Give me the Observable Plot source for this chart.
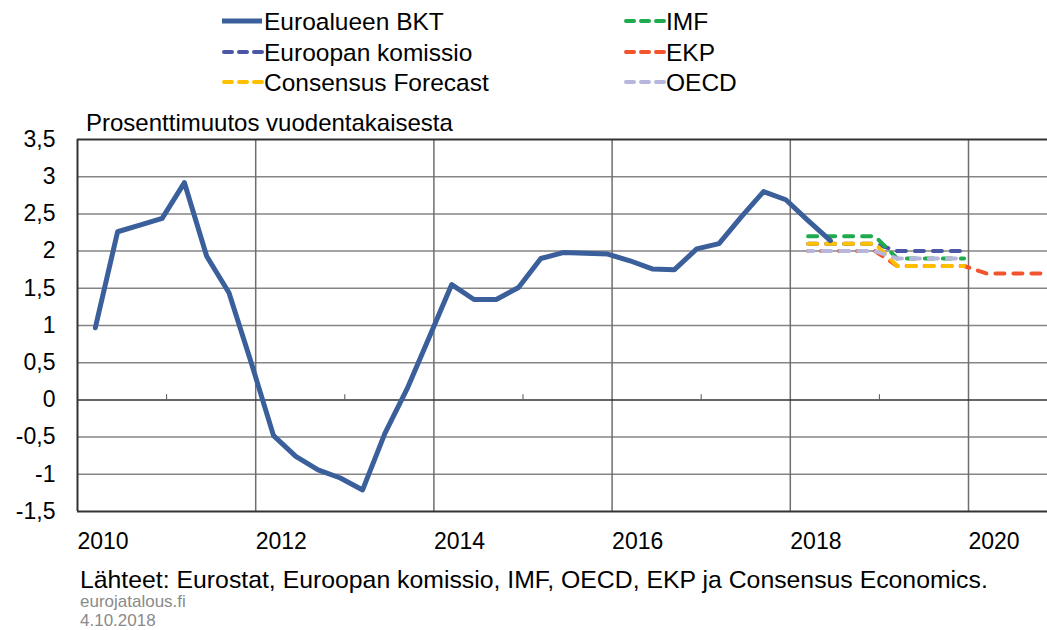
<!DOCTYPE html>
<html>
<head>
<meta charset="utf-8">
<script src="https://cdn.jsdelivr.net/npm/d3@7"></script>
<script src="https://cdn.jsdelivr.net/npm/@observablehq/plot@0.6"></script>
<style>
  html, body { margin: 0; padding: 0; background: #fff; }
  #wrap { position: relative; width: 1047px; height: 630px; overflow: hidden; font-family: "Liberation Sans", Arial, sans-serif; }
  #wrap > svg { position: absolute; left: 0; top: 0; }
</style>
</head>
<body>
<div id="wrap"></div>
<script>
// ---------- data ----------
const quarters = [
  "2010Q1","2010Q2","2010Q3","2010Q4",
  "2011Q1","2011Q2","2011Q3","2011Q4",
  "2012Q1","2012Q2","2012Q3","2012Q4",
  "2013Q1","2013Q2","2013Q3","2013Q4",
  "2014Q1","2014Q2","2014Q3","2014Q4",
  "2015Q1","2015Q2","2015Q3","2015Q4",
  "2016Q1","2016Q2","2016Q3","2016Q4",
  "2017Q1","2017Q2","2017Q3","2017Q4",
  "2018Q1","2018Q2"
];
const gdp = [
  0.97, 2.26, 2.35, 2.44,
  2.92, 1.93, 1.44, 0.50,
  -0.48, -0.76, -0.94, -1.05,
  -1.21, -0.45, 0.15, 0.85,
  1.55, 1.35, 1.35, 1.51,
  1.90, 1.98, 1.97, 1.96,
  1.87, 1.76, 1.75, 2.03,
  2.10, 2.46, 2.80, 2.69,
  2.41, 2.14
];
const forecastQuarters = [
  "2018Q1","2018Q2","2018Q3","2018Q4",
  "2019Q1","2019Q2","2019Q3","2019Q4",
  "2020Q1","2020Q2","2020Q3","2020Q4"
];
const komissio  = [2.1, 2.1, 2.1, 2.1, 2.0, 2.0, 2.0, 2.0];
const imf       = [2.2, 2.2, 2.2, 2.2, 1.9, 1.9, 1.9, 1.9];
const ekp       = [2.0, 2.0, 2.0, 2.0, 1.8, 1.8, 1.8, 1.8, 1.7, 1.7, 1.7, 1.7];
const consensus = [2.1, 2.1, 2.1, 2.1, 1.8, 1.8, 1.8, 1.8];
const oecd      = [2.0, 2.0, 2.0, 2.0, 1.9, 1.9, 1.9, 1.9];

const yTicks = [-1.5, -1, -0.5, 0, 0.5, 1, 1.5, 2, 2.5, 3, 3.5];
const xLabelYears = [2010, 2012, 2014, 2016, 2018, 2020];
const xGridYears = [2012, 2014, 2016, 2018, 2020];
const xMinorTickYears = [2011, 2013, 2015, 2017, 2019];

const legendNames = ["Euroalueen BKT", "Euroopan komissio", "Consensus Forecast", "IMF", "EKP", "OECD"];
const legendColors = ["#3A5F9A", "#4B57A5", "#FFC000", "#1FAA4E", "#F2542D", "#B8B6DC"];

const titleText = "Prosenttimuutos vuodentakaisesta";
const sourceText = "Lähteet: Eurostat, Euroopan komissio, IMF, OECD, EKP ja Consensus Economics.";
const siteText = "eurojatalous.fi";
const dateText = "4.10.2018";

// ---------- helpers ----------
const qx = s => +s.slice(0, 4) + (+s.slice(5) - 1) / 4 + 0.2;
const gdpData = quarters.map((q, i) => ({x: qx(q), y: gdp[i]}));
const fc = arr => arr.map((v, i) => ({x: qx(forecastQuarters[i]), y: v}));
const fmt = d => String(d).replace(".", ",");

const W = 1047, H = 630;
const mL = 77, mR = 0, mT = 139, mB = 119;
const pxPerYear = 89.1;
const xMax = 2010 + (W - mL - mR) / pxPerYear;

const dash = {strokeWidth: 4, strokeDasharray: "9,9", strokeLinecap: "round", clip: true};

const chart = Plot.plot({
  width: W, height: H,
  marginLeft: mL, marginRight: mR, marginTop: mT, marginBottom: mB,
  style: {fontFamily: '"Liberation Sans", Arial, sans-serif', fontSize: "23px", color: "#000", background: "transparent", overflow: "visible"},
  x: {type: "linear", domain: [2010, xMax], label: null},
  y: {domain: [-1.5, 3.5], label: null},
  marks: [
    Plot.ruleY(yTicks.filter(d => d > -1.5 && d < 3.5 && d !== 0), {stroke: "#858585", strokeWidth: 1.5}),
    Plot.ruleX(xGridYears, {stroke: "#6e6e6e", strokeWidth: 1.5}),
    Plot.ruleY([0], {stroke: "#333", strokeWidth: 1.5}),
    Plot.ruleX(xMinorTickYears, {y1: 0, y2: 0.07, stroke: "#555", strokeWidth: 1}),
    Plot.ruleY([-1.5, 3.5], {stroke: "#333", strokeWidth: 2}),
    Plot.ruleX([2010], {stroke: "#333", strokeWidth: 2}),
    Plot.axisY({ticks: yTicks, tickFormat: fmt, tickSize: 0, tickPadding: 22, fontSize: 23, label: null}),
    Plot.axisX({ticks: xLabelYears, tickFormat: d => String(d), tickSize: 0, tickPadding: 0, textAnchor: "start", dy: 21, fontSize: 23, label: null}),
    Plot.line(fc(komissio), {x: "x", y: "y", stroke: legendColors[1], ...dash}),
    Plot.line(fc(ekp), {x: "x", y: "y", stroke: legendColors[4], ...dash, strokeDashoffset: 5}),
    Plot.line(fc(imf), {x: "x", y: "y", stroke: legendColors[3], ...dash}),
    Plot.line(fc(consensus), {x: "x", y: "y", stroke: legendColors[2], ...dash}),
    Plot.line(fc(oecd), {x: "x", y: "y", stroke: legendColors[5], ...dash, strokeDashoffset: 4}),
    Plot.line(gdpData, {x: "x", y: "y", stroke: legendColors[0], strokeWidth: 5, strokeLinejoin: "round", strokeLinecap: "round"})
  ]
});

const wrap = document.getElementById("wrap");
wrap.appendChild(chart);

// ---------- overlay: legend, title, caption ----------
const ns = "http://www.w3.org/2000/svg";
const ov = document.createElementNS(ns, "svg");
ov.setAttribute("width", W); ov.setAttribute("height", H);
ov.style.pointerEvents = "none";
ov.style.fontFamily = '"Liberation Sans", Arial, sans-serif';
wrap.appendChild(ov);

function text(str, x, y, size, fill) {
  const t = document.createElementNS(ns, "text");
  t.setAttribute("x", x); t.setAttribute("y", y);
  t.setAttribute("font-size", size); t.setAttribute("fill", fill || "#000");
  t.textContent = str;
  ov.appendChild(t);
  return t;
}
function line(x1, x2, y, color, width, dashed) {
  const l = document.createElementNS(ns, "line");
  l.setAttribute("x1", x1); l.setAttribute("x2", x2);
  l.setAttribute("y1", y); l.setAttribute("y2", y);
  l.setAttribute("stroke", color); l.setAttribute("stroke-width", width);
  if (dashed) { l.setAttribute("stroke-dasharray", "8,7"); l.setAttribute("stroke-linecap", "round"); l.setAttribute("stroke-dashoffset", "-2"); }
  ov.appendChild(l);
}

const legCols = [222, 624];
const legRows = [21, 52, 82];
legendNames.forEach((name, i) => {
  const cx = legCols[Math.floor(i / 3)], cy = legRows[i % 3];
  line(cx, cx + 40, cy, legendColors[i], i === 0 ? 5 : 4, i !== 0);
  text(name, cx + 42, cy + 8.5, 24.5);
});

text(titleText, 86, 131, 24);
text(sourceText, 80, 588, 24.8);
text(siteText, 80, 607, 17, "#8a8a8a");
text(dateText, 80, 626, 17, "#8a8a8a");
</script>
</body>
</html>
